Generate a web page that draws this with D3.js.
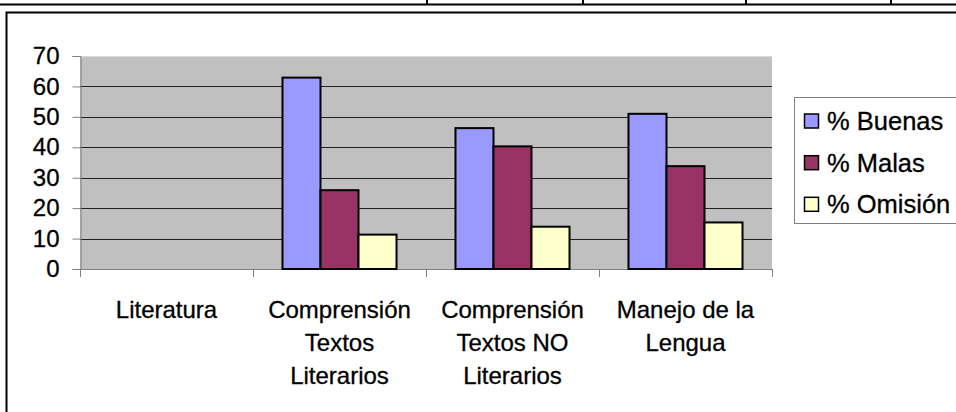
<!DOCTYPE html>
<html><head><meta charset="utf-8">
<script src="https://cdn.jsdelivr.net/npm/d3@7"></script>
<style>html,body{margin:0;padding:0;background:#fff;overflow:hidden}svg{display:block}text{font-family:"Liberation Sans",Arial,sans-serif}</style>
</head><body>
<script>
const categories = ["Literatura", "Comprensión Textos Literarios", "Comprensión Textos NO Literarios", "Manejo de la Lengua"];
const categoryLines = [["Literatura"], ["Comprensión", "Textos", "Literarios"], ["Comprensión", "Textos NO", "Literarios"], ["Manejo de la", "Lengua"]];
const seriesNames = ["% Buenas", "% Malas", "% Omisión"];
const buenas = [null, 62.9, 46.3, 51.0];
const malas = [null, 25.9, 40.3, 33.8];
const omision = [null, 11.3, 13.9, 15.3];
const yTicks = [0, 10, 20, 30, 40, 50, 60, 70];
const colors = ["#9999FF", "#993366", "#FFFFCC"];

const W = 956, H = 412;
const svg = d3.select("body").append("svg").attr("width", W).attr("height", H);

// document lines above frame
svg.append("line").attr("x1", 0).attr("x2", W).attr("y1", 4.5).attr("y2", 4.5).attr("stroke", "#000").attr("stroke-width", 2);
[427, 583, 746, 891].forEach(x => svg.append("line").attr("x1", x).attr("x2", x).attr("y1", 0).attr("y2", 5).attr("stroke", "#000").attr("stroke-width", 2));
// frame
svg.append("rect").attr("x", 6.5).attr("y", 12.5).attr("width", 1000).attr("height", 500).attr("fill", "none").attr("stroke", "#000").attr("stroke-width", 2);

const plot = {left: 80, right: 772, top: 56, bottom: 269};
const x = d3.scaleBand().domain(categories).range([plot.left, plot.right]).padding(0);
const xs = d3.scaleBand().domain(seriesNames).range([0, x.bandwidth()]).paddingInner(0).paddingOuter(0.776);
const y = d3.scaleLinear().domain([0, 70]).range([plot.bottom, plot.top]);

svg.append("rect").attr("x", plot.left).attr("y", plot.top).attr("width", plot.right - plot.left).attr("height", plot.bottom - plot.top).attr("fill", "#C0C0C0");
svg.append("line").attr("x1", plot.left).attr("x2", plot.right).attr("y1", plot.top + 0.5).attr("y2", plot.top + 0.5).attr("stroke", "#d8d8d8").attr("stroke-width", 1);

// gridlines
svg.append("g").selectAll("line").data(yTicks.filter(t => t > 0 && t < 70)).join("line")
  .attr("x1", plot.left).attr("x2", plot.right)
  .attr("y1", d => Math.round(y(d)) + 0.5).attr("y2", d => Math.round(y(d)) + 0.5)
  .attr("stroke", "#202020").attr("stroke-width", 1);

// y axis
const yAxis = d3.axisLeft(y).tickValues(yTicks).tickSize(8).tickPadding(13).tickFormat(d3.format("d"));
const gy = svg.append("g").attr("transform", `translate(${plot.left + 0.5},0)`).call(yAxis);
gy.select(".domain").attr("stroke", "#808080");
gy.selectAll(".tick line").attr("stroke", "#808080");
gy.selectAll("text").attr("font-size", 24).attr("fill", "#000").attr("stroke", "#000").attr("stroke-width", 0.3).attr("font-family", "Liberation Sans, Arial, sans-serif");

// x axis
const boundaries = categories.map(c => x(c)).concat([plot.right]);
const gx = svg.append("g");
gx.append("line").attr("x1", plot.left).attr("x2", plot.right).attr("y1", plot.bottom + 0.5).attr("y2", plot.bottom + 0.5).attr("stroke", "#808080");
gx.selectAll("line.tk").data(boundaries).join("line").attr("class", "tk")
  .attr("x1", d => Math.round(d) + 0.5).attr("x2", d => Math.round(d) + 0.5)
  .attr("y1", plot.bottom).attr("y2", plot.bottom + 8).attr("stroke", "#808080");
const lab = gx.selectAll("text.cat").data(categories).join("text").attr("class", "cat")
  .attr("text-anchor", "middle").attr("font-size", 24).attr("fill", "#000").attr("stroke", "#000").attr("stroke-width", 0.3)
  .attr("transform", d => `translate(${x(d) + x.bandwidth() / 2},318)`);
lab.selectAll("tspan").data((d, i) => categoryLines[i]).join("tspan")
  .attr("x", 0).attr("y", (d, i) => i * 33).text(d => d);

// bars
const seriesData = [buenas, malas, omision];
seriesNames.forEach((s, si) => {
  svg.append("g").selectAll("rect").data(categories.map((c, i) => ({c, v: seriesData[si][i]})).filter(d => d.v != null)).join("rect")
    .attr("x", d => x(d.c) + xs(s)).attr("width", xs.bandwidth())
    .attr("y", d => y(d.v)).attr("height", d => y(0) - y(d.v))
    .attr("fill", colors[si]).attr("stroke", "#000").attr("stroke-width", 2);
});

// legend
const lg = svg.append("g");
lg.append("rect").attr("x", 794.5).attr("y", 97.5).attr("width", 200).attr("height", 126).attr("fill", "#fff").attr("stroke", "#808080").attr("stroke-width", 1);
const baseY = [130, 171.7, 213.3];
seriesNames.forEach((s, i) => {
  lg.append("rect").attr("x", 804.5).attr("y", baseY[i] - 16).attr("width", 14).attr("height", 14)
    .attr("fill", colors[i]).attr("stroke", "#000").attr("stroke-width", 1.5);
  lg.append("text").attr("x", 827).attr("y", baseY[i]).attr("font-size", 25.5).attr("fill", "#000").attr("stroke", "#000").attr("stroke-width", 0.3)
    .text(s);
});
</script>
</body></html>
